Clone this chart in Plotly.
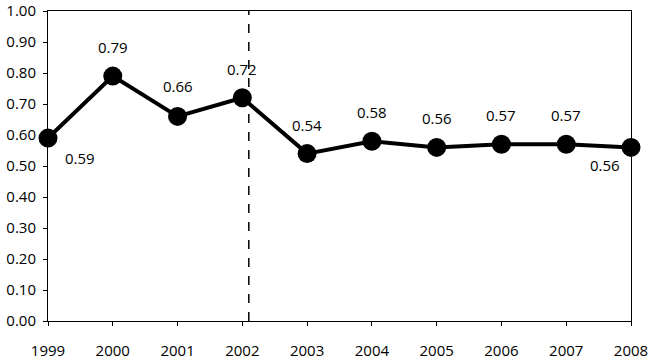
import plotly.graph_objects as go

years = ["1999", "2000", "2001", "2002", "2003", "2004", "2005", "2006", "2007", "2008"]
values = [0.59, 0.79, 0.66, 0.72, 0.54, 0.58, 0.56, 0.57, 0.57, 0.56]
divider_x = 3.1

xs = list(range(len(years)))
labels = [f"{v:.2f}" for v in values]
# label offsets (pixels) relative to each point
x_shift = [32, 0, 0, 0, 0, 0, 0, 0, 0, -26]
y_shift = [-20, 29, 30, 29, 29, 29, 29, 29, 29, -18]

fig = go.Figure()
fig.add_trace(go.Scatter(
    x=xs, y=values, mode="lines+markers",
    line=dict(color="black", width=4),
    marker=dict(color="black", size=19),
    cliponaxis=False, showlegend=False, hoverinfo="skip",
))
for xi, v, t, dx, dy in zip(xs, values, labels, x_shift, y_shift):
    fig.add_annotation(x=xi, y=v, text=t, showarrow=False, xshift=dx, yshift=dy,
                       font=dict(family="Open Sans", size=15, color="black"))
fig.add_shape(type="line", x0=divider_x, x1=divider_x, y0=0, y1=1,
              xref="x", yref="y", line=dict(color="black", width=1.5, dash="dash"))

fig.update_layout(
    width=651, height=362,
    margin=dict(l=48, r=20, t=11, b=41, autoexpand=False),
    paper_bgcolor="white", plot_bgcolor="white",
    font=dict(family="Open Sans", size=15, color="black"),
)
fig.update_xaxes(range=[0, 9], tickvals=xs, ticktext=years, showgrid=False,
                 zeroline=False, showline=True, linecolor="black", linewidth=1,
                 mirror=True, ticks="outside", ticklen=4, tickcolor="black",
                 ticklabelstandoff=12, automargin=False, ticklabeloverflow="allow")
fig.update_yaxes(range=[0, 1], dtick=0.1, tick0=0, tickformat=".2f", showgrid=False,
                 zeroline=False, showline=True, linecolor="black", linewidth=1,
                 mirror=True, ticks="outside", ticklen=4, tickcolor="black",
                 ticklabelstandoff=4, automargin=False, ticklabeloverflow="allow")

fig.write_html("out.html", config={"displayModeBar": False},
               post_script="document.body.style.margin='0';")
